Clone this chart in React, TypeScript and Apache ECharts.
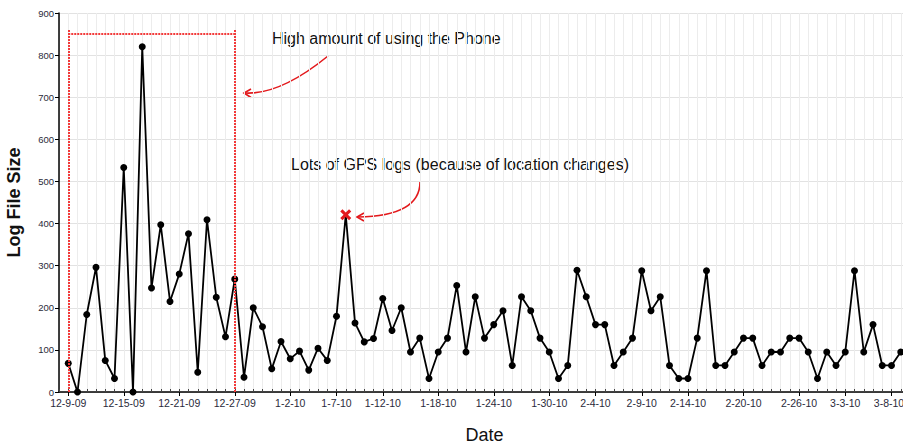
import React, { useEffect, useRef } from "react";
import * as echarts from "echarts";

// Daily log sizes from 12-9-09 to 3-9-10 (one value per day)
const START_DATE = [2009, 12, 9];
const LOG_SIZES = [
  68, 0, 184, 296, 75, 32, 533, 0, 820, 247, 397, 215, 280, 376, 47, 409, 225, 131, 268,
  35, 200, 155, 55, 120, 79, 97, 52, 104, 75, 180, 421, 164, 119, 127, 222, 146, 200, 95,
  128, 32, 95, 128, 253, 95, 226, 128, 160, 193, 63, 226, 193, 128, 95, 32, 63, 289, 226,
  160, 160, 63, 95, 128, 288, 193, 226, 63, 32, 32, 128, 288, 63, 63, 95, 128, 128, 63, 95,
  95, 128, 128, 95, 32, 95, 63, 95, 288, 95, 160, 63, 63, 95,
];
const TICK_LABELS = [
  "12-9-09", "12-15-09", "12-21-09", "12-27-09", "1-2-10", "1-7-10", "1-12-10", "1-18-10",
  "1-24-10", "1-30-10", "2-4-10", "2-9-10", "2-14-10", "2-20-10", "2-26-10", "3-3-10", "3-8-10",
];
const Y_TICKS = [0, 100, 200, 300, 400, 500, 600, 700, 800, 900];
const HIGHLIGHT_DATE = "1-8-10";
const PHONE_RANGE = ["12-9-09", "12-27-09"];
const BRACKET_TOP = 862;
const BRACKET_LEVEL = 850;

function buildDates(): string[] {
  const out: string[] = [];
  const d = new Date(START_DATE[0], START_DATE[1] - 1, START_DATE[2]);
  for (let i = 0; i < LOG_SIZES.length; i++) {
    const yy = String(d.getFullYear() % 100).padStart(2, "0");
    out.push(`${d.getMonth() + 1}-${d.getDate()}-${yy}`);
    d.setDate(d.getDate() + 1);
  }
  return out;
}

const X_MARK =
  "path://M2,0 L5,3 L8,0 L10,2 L7,5 L10,8 L8,10 L5,7 L2,10 L0,8 L3,5 L0,2 Z";

export default function App() {
  const ref = useRef<HTMLDivElement>(null);
  useEffect(() => {
    if (!ref.current) return;
    const chart = echarts.init(ref.current, undefined, { renderer: "svg" });
    const dates = buildDates();
    const categories = ["", ...dates, ""];
    const seriesData: any[] = [null];
    dates.forEach((d, i) => {
      if (d === HIGHLIGHT_DATE) {
        seriesData.push({
          value: LOG_SIZES[i],
          symbol: X_MARK,
          symbolSize: 11,
          itemStyle: { color: "#e3191c" },
        });
      } else {
        seriesData.push(LOG_SIZES[i]);
      }
    });
    seriesData.push(null);
    const labelSet = new Set(TICK_LABELS);
    const lastLabel = TICK_LABELS[TICK_LABELS.length - 1];
    const font = "'Liberation Sans', Arial, sans-serif";
    const red = "#f23a3a";

    chart.setOption({
      animation: false,
      backgroundColor: "#ffffff",
      grid: {
        left: 59,
        top: 13,
        right: -7,
        bottom: 53,
        containLabel: false,
        outerBoundsMode: "none",
      },
      xAxis: [
        {
          type: "category",
          data: categories,
          boundaryGap: false,
          name: "Date",
          nameLocation: "middle",
          nameGap: 34,
          nameTextStyle: { fontFamily: font, fontSize: 18, color: "#111" },
          axisLine: { lineStyle: { color: "#000", width: 1.5 } },
          axisTick: { show: true, interval: 0, inside: true, length: 3, lineStyle: { color: "#444" } },
          axisLabel: {
            interval: (_i: number, v: string) => labelSet.has(v),
            formatter: (v: string) => (v === lastLabel ? `{e|${v}}` : v),
            rich: {
              e: { fontFamily: font, fontSize: 10.5, color: "#2a2a3a", padding: [0, 5, 0, 0] },
            },
            fontFamily: font,
            fontSize: 10.5,
            color: "#2a2a3a",
            margin: 5,
          },
          splitLine: { show: true, interval: 0, lineStyle: { color: "#ececec", width: 1 } },
        },
        {
          type: "category",
          data: categories,
          boundaryGap: false,
          position: "bottom",
          axisLine: { show: false },
          axisTick: {
            show: true,
            interval: (_i: number, v: string) => labelSet.has(v),
            length: 4,
            lineStyle: { color: "#000" },
          },
          axisLabel: { show: false },
          splitLine: { show: false },
        },
      ],
      yAxis: {
        type: "value",
        min: Y_TICKS[0],
        max: Y_TICKS[Y_TICKS.length - 1],
        interval: 100,
        name: "Log File Size",
        nameLocation: "middle",
        nameGap: 36,
        nameTextStyle: { fontFamily: font, fontSize: 18, fontWeight: "bold", color: "#111" },
        axisLine: { show: true, lineStyle: { color: "#000", width: 1.5 } },
        axisTick: { show: true, length: 4, lineStyle: { color: "#000" } },
        axisLabel: { fontFamily: font, fontSize: 9.5, color: "#2a2a3a", margin: 5 },
        splitLine: { show: true, lineStyle: { color: "#e2e2e2", width: 1 } },
      },
      series: [
        {
          type: "line",
          data: seriesData,
          symbol: "circle",
          symbolSize: 7,
          showAllSymbol: true,
          lineStyle: { color: "#000", width: 1.8 },
          itemStyle: { color: "#000" },
          markLine: {
            silent: true,
            symbol: ["none", "none"],
            label: { show: false },
            lineStyle: { color: red, type: [2, 1], width: 2 },
            data: [
              [{ coord: [PHONE_RANGE[0], 0] }, { coord: [PHONE_RANGE[0], BRACKET_TOP] }],
              [{ coord: [PHONE_RANGE[1], 0] }, { coord: [PHONE_RANGE[1], BRACKET_TOP] }],
              [{ coord: [PHONE_RANGE[0], BRACKET_LEVEL] }, { coord: [PHONE_RANGE[1], BRACKET_LEVEL] }],
            ],
          },
        },
      ],
      graphic: [
        {
          type: "text",
          x: 272,
          y: 38,
          style: { text: "High amount of using the Phone", font: `16px ${font}`, fill: "#111", verticalAlign: "middle" },
        },
        {
          type: "text",
          x: 291,
          y: 164,
          style: {
            text: "Lots of GPS logs (because of location changes)",
            font: `16px ${font}`,
            fill: "#111",
            verticalAlign: "middle",
          },
        },
        {
          type: "bezierCurve",
          shape: { x1: 328, y1: 56, x2: 245, y2: 93, cpx1: 280, cpy1: 95 },
          style: { stroke: "#e3191c", lineWidth: 1.6, fill: null },
        },
        {
          type: "polyline",
          shape: { points: [[251, 89], [244, 93], [251, 97.5]] },
          style: { stroke: "#e3191c", lineWidth: 1.6, fill: null },
        },
        {
          type: "bezierCurve",
          shape: { x1: 420, y1: 182, x2: 358, y2: 217, cpx1: 420, cpy1: 216 },
          style: { stroke: "#e3191c", lineWidth: 1.6, fill: null },
        },
        {
          type: "polyline",
          shape: { points: [[364, 213], [357, 217], [364, 221]] },
          style: { stroke: "#e3191c", lineWidth: 1.6, fill: null },
        },
      ],
    });
    return () => chart.dispose();
  }, []);
  return (
    <div
      ref={ref}
      style={{ position: "absolute", left: 0, top: 0, width: 903, height: 445 }}
    />
  );
}
